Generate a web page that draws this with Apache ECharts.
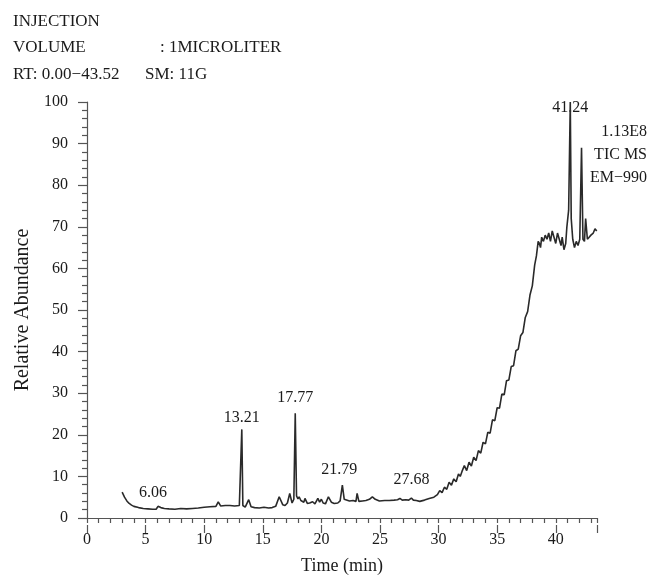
<!DOCTYPE html>
<html>
<head>
<meta charset="utf-8">
<script src="https://cdn.jsdelivr.net/npm/echarts@6/dist/echarts.min.js"></script>
<style>html,body{margin:0;padding:0;background:#fff;}#chart{width:650px;height:580px;}</style>
</head>
<body>
<div id="chart"></div>
<script>
// Retention time (min)
const timeMin = [
  3.0, 3.2, 3.4, 3.6, 3.8, 4.0, 4.4, 4.8, 5.2, 5.6, 5.9, 6.06, 6.3, 6.6, 7.0, 7.5, 8.0, 8.5, 9.0, 9.5,
  10.0, 10.5, 11.0, 11.2, 11.4, 11.8, 12.2, 12.6, 13.0, 13.12, 13.21, 13.3, 13.5, 13.8, 14.0, 14.3, 14.7,
  15.1, 15.5, 15.8, 16.1, 16.4, 16.7, 16.9, 17.1, 17.3, 17.5, 17.65, 17.77, 17.88, 18.0, 18.1, 18.25,
  18.35, 18.5, 18.6, 18.8, 19.0, 19.25, 19.45, 19.7, 19.85, 20.0, 20.15, 20.35, 20.6, 20.85, 21.1, 21.4,
  21.6, 21.79, 21.95, 22.1, 22.4, 22.7, 22.95, 23.05, 23.2, 23.5, 23.8, 24.1, 24.35, 24.6, 24.95, 25.4,
  25.8, 26.2, 26.5, 26.7, 26.9, 27.2, 27.45, 27.68, 27.85, 28.1, 28.4, 28.8, 29.2, 29.6, 29.9, 30.1,
  30.3, 30.5, 30.7, 30.9, 31.1, 31.3, 31.5, 31.7, 31.85, 32.0, 32.2, 32.4, 32.6, 32.8, 33.0, 33.2, 33.4,
  33.6, 33.8, 34.0, 34.2, 34.4, 34.6, 34.8, 35.0, 35.2, 35.4, 35.6, 35.8, 36.0, 36.2, 36.4, 36.6, 36.8,
  37.0, 37.2, 37.4, 37.6, 37.8, 38.0, 38.2, 38.35, 38.5, 38.6, 38.7, 38.8, 38.95, 39.1, 39.25, 39.4,
  39.55, 39.7, 39.85, 40.0, 40.15, 40.3, 40.45, 40.55, 40.7, 40.85, 40.95, 41.1, 41.24, 41.32, 41.45,
  41.6, 41.75, 41.9, 42.05, 42.2, 42.32, 42.45, 42.55, 42.7, 42.85, 43.0, 43.2, 43.35, 43.5
];
// Relative abundance (%)
const relAbundance = [
  6.2, 5.0, 4.1, 3.5, 3.1, 2.8, 2.5, 2.3, 2.2, 2.1, 2.1, 2.8, 2.5, 2.3, 2.2, 2.1, 2.3, 2.2, 2.3, 2.4,
  2.6, 2.7, 2.8, 3.9, 2.9, 3.0, 3.0, 2.9, 3.0, 3.2, 21.3, 3.0, 2.6, 4.4, 2.7, 2.5, 2.4,
  2.6, 2.4, 2.5, 2.8, 5.1, 3.2, 3.0, 3.6, 5.9, 3.6, 4.5, 25.2, 5.3, 4.6, 5.1, 4.2,
  4.6, 3.8, 4.7, 3.5, 3.6, 3.9, 3.4, 4.7, 3.8, 4.5, 3.6, 3.4, 5.1, 3.8, 3.5, 3.6,
  4.1, 7.9, 4.5, 4.2, 4.1, 4.2, 4.0, 5.9, 4.0, 4.1, 4.2, 4.5, 5.1, 4.5, 4.1, 4.2,
  4.2, 4.3, 4.4, 4.7, 4.3, 4.4, 4.3, 4.8, 4.3, 4.2, 4.0, 4.3, 4.7, 5.0, 5.6, 6.6,
  6.1, 7.4, 6.9, 8.6, 7.9, 9.4, 8.7, 10.6, 10.0, 11.2, 12.6, 11.4, 13.4, 12.5, 14.6, 13.8, 16.2,
  15.6, 18.2, 17.8, 20.6, 20.4, 23.6, 23.4, 26.5, 26.4, 29.8, 29.6, 33.0, 33.2, 36.4, 36.6, 40.2, 40.6,
  43.8, 44.6, 48.2, 49.6, 53.6, 55.8, 60.8, 63.0, 66.5, 66.0, 65.0, 67.5, 66.5, 68.0, 67.0, 68.5,
  66.5, 69.0, 67.5, 66.0, 68.5, 67.0, 65.5, 67.5, 64.5, 66.0, 70.0, 74.0, 100, 72.0, 67.0,
  65.0, 66.5, 65.5, 67.0, 89.0, 67.0, 66.5, 72.0, 67.0, 67.5, 68.0, 68.5, 69.5, 69.0
];
// Labelled peaks
const peakTimes = [6.06, 13.21, 17.77, 21.79, 27.68, 41.24];
const peakHeights = [2.8, 21.3, 25.2, 7.9, 4.8, 100];
// Axis ticks
const xTickStep = 1, xLabelStep = 5, xMin = 0, xMax = 43.52;
const yTickStep = 10, yMin = 0, yMax = 100;

const headerLines = [
  ['INJECTION', 13, 22],
  ['VOLUME', 13, 48],
  [': 1MICROLITER', 160, 48],
  ['RT: 0.00\u221243.52', 13, 75],
  ['SM: 11G', 145, 75]
];
const sideLines = ['1.13E8', 'TIC MS', 'EM\u2212990'];

const serif = '"Liberation Serif", "DejaVu Serif", serif';
const ink = '#1a1a1a';
const axisCol = '#555';

const lineData = timeMin.map((t, i) => [t, relAbundance[i]]);
const labelStyle = [
  {distance: 6, offset: [-5, 0]},
  {distance: 4, offset: [0, 0]},
  {distance: 7, offset: [0, 0]},
  {distance: 7, offset: [-3, 0]},
  {distance: 10, offset: [0, 0]},
  {position: 'inside', offset: [0, 6]}
];
const peakData = peakTimes.map((t, i) => ({
  value: [t, peakHeights[i]],
  label: Object.assign({show: true, position: 'top'}, labelStyle[i])
}));

const gridBox = {left: 87, right: 53, top: 102, bottom: 55};

const graphics = headerLines.map(([txt, x, y]) => ({
  type: 'text', x: x, y: y,
  style: {text: txt, font: '17px ' + serif, fill: ink, align: 'left', verticalAlign: 'middle'}
})).concat(sideLines.map((txt, i) => ({
  type: 'text', x: 647, y: 132 + i * 23,
  style: {text: txt, font: '16px ' + serif, fill: ink, align: 'right', verticalAlign: 'middle'}
})));

const chart = echarts.init(document.getElementById('chart'), null, {renderer: 'canvas'});
chart.setOption({
  animation: false,
  backgroundColor: '#fff',
  textStyle: {fontFamily: serif},
  grid: [Object.assign({}, gridBox), Object.assign({}, gridBox)],
  xAxis: [{
    type: 'value', gridIndex: 0, min: xMin, max: xMax, interval: xTickStep,
    name: 'Time (min)', nameLocation: 'middle', nameGap: 39,
    nameTextStyle: {fontSize: 18, color: ink, fontFamily: serif},
    axisLine: {show: true, lineStyle: {color: axisCol, width: 1.2}},
    axisTick: {show: true, length: 5, lineStyle: {color: axisCol, width: 1.2}},
    axisLabel: {
      margin: 14, fontSize: 16, color: ink, fontFamily: serif,
      formatter: v => (Math.abs(v % xLabelStep) < 1e-9 ? String(v) : '')
    },
    splitLine: {show: false}
  }, {
    type: 'value', gridIndex: 1, min: xMin, max: xMax, interval: xLabelStep, position: 'bottom',
    axisLine: {show: false},
    axisTick: {show: true, length: 8, lineStyle: {color: axisCol, width: 1.2}},
    axisLabel: {show: false},
    splitLine: {show: false}
  }],
  yAxis: [{
    type: 'value', gridIndex: 0, min: yMin, max: yMax, interval: yTickStep,
    name: 'Relative Abundance', nameLocation: 'middle', nameGap: 49,
    nameTextStyle: {fontSize: 20, color: ink, fontFamily: serif},
    axisLine: {show: true, lineStyle: {color: axisCol, width: 1.2}},
    axisTick: {show: true, length: 9, lineStyle: {color: axisCol, width: 1.2}},
    minorTick: {show: true, splitNumber: 5, length: 5, lineStyle: {color: axisCol, width: 1.2}},
    axisLabel: {margin: 19, fontSize: 16, color: ink, fontFamily: serif},
    splitLine: {show: false}
  }, {
    type: 'value', gridIndex: 1, min: yMin, max: yMax, show: false
  }],
  graphic: graphics,
  series: [{
    type: 'line', xAxisIndex: 0, yAxisIndex: 0, data: lineData,
    showSymbol: false, symbol: 'none', smooth: false,
    lineStyle: {color: '#2a2a2a', width: 1.6}
  }, {
    type: 'scatter', xAxisIndex: 0, yAxisIndex: 0, data: peakData,
    symbolSize: 0, silent: true, z: 1,
    itemStyle: {opacity: 1, color: ink},
    label: {
      show: true, color: ink, opacity: 1, fontSize: 16, fontFamily: serif,
      formatter: p => p.value[0].toFixed(2)
    }
  }]
});
</script>
</body>
</html>
